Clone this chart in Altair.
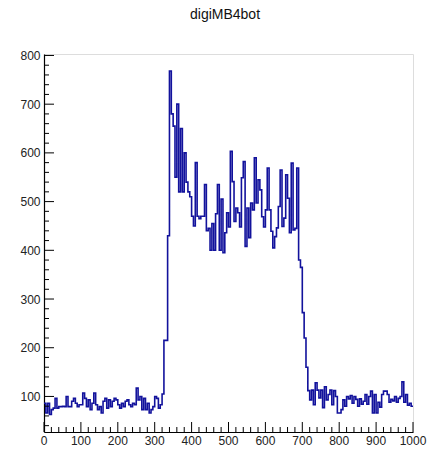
import altair as alt
import pandas as pd

bin_width = 5
x_max = 1000

baseline_counts = [86, 66, 86, 63, 73, 76, 96, 76, 79, 79, 80, 79, 100, 79, 79, 90,
                   96, 86, 79, 83, 83, 107, 96, 79, 93, 73, 86, 107, 83, 73, 79, 66,
                   90, 96, 76, 93, 79, 90, 96, 93, 83, 76, 86, 79, 90, 93, 83, 79,
                   86, 83, 117, 93, 100, 73, 96, 73, 86, 66, 73, 79, 100, 96, 76, 83]
rise_counts = [105, 215, 215, 430]
peak_counts = [768, 680, 655, 550, 700, 520, 650, 520, 600, 540, 520, 510, 470, 450,
               580, 470, 465, 470, 470, 535, 440, 445, 400, 455, 400, 475, 535, 400,
               505, 395, 436, 477, 448, 603, 541, 459, 487, 477, 448, 549, 582, 408,
               487, 426, 497, 483, 590, 497, 545, 524, 469, 448, 483, 569, 483, 439,
               405, 428, 446, 490, 565, 449, 466, 555, 507, 436, 579, 442, 445, 569]
fall_counts = [380, 365, 272, 220, 160, 112]
tail_counts = [93, 113, 83, 128, 113, 97, 113, 77, 120, 93, 104, 113, 83, 112, 100, 66,
               66, 73, 93, 80, 100, 95, 102, 86, 100, 94, 80, 95, 84, 90, 104, 84,
               100, 111, 66, 104, 66, 88, 78, 104, 111, 111, 104, 88, 94, 91, 100, 88,
               96, 100, 130, 88, 104, 82, 86, 80]

counts = baseline_counts + rise_counts + peak_counts + fall_counts + tail_counts
edges = [i * bin_width for i in range(len(counts))]
hist = pd.DataFrame({"x": edges + [x_max], "y": counts + [counts[-1]]})

x_major = list(range(0, 1001, 100))
x_minor = [v for v in range(0, 1001, 20) if v % 100]
y_major = list(range(100, 801, 100))
y_minor = [v for v in range(40, 801, 20) if v % 100]

W, H = 369, 378
FONT = "Liberation Sans"
xs = alt.Scale(domain=[0, 1000], nice=False, zero=False)
ys = alt.Scale(domain=[27, 803], nice=False, zero=False)

line = alt.Chart(hist).mark_line(
    interpolate="step-after", color="#12129c", strokeWidth=1.6
).encode(
    x=alt.X("x:Q", scale=xs, axis=alt.Axis(
        values=x_major, labels=False, tickSize=0, domain=True, domainColor="#000",
        domainWidth=1.2, grid=False, title=None)),
    y=alt.Y("y:Q", scale=ys, axis=alt.Axis(
        values=y_major, format="d", tickSize=0, domain=True, domainColor="#000",
        domainWidth=1.2, grid=False, labelOverlap=False,
        labelFont=FONT, labelFontSize=12, labelColor="#222", labelPadding=4,
        title=None)),
)

xlabels = alt.Chart(pd.DataFrame({"v": x_major})).mark_text(
    font=FONT, fontSize=12, color="#222", baseline="top", align="center"
).encode(x=alt.X("v:Q", scale=xs), y=alt.value(H + 4), text=alt.Text("v:Q", format="d"))

def xticks(vals, length):
    return alt.Chart(pd.DataFrame({"v": vals})).mark_rule(
        color="#000", strokeWidth=1).encode(
        x=alt.X("v:Q", scale=xs), y=alt.value(H), y2=alt.value(H - length))

def yticks(vals, length):
    return alt.Chart(pd.DataFrame({"v": vals})).mark_rule(
        color="#000", strokeWidth=1).encode(
        y=alt.Y("v:Q", scale=ys), x=alt.value(0), x2=alt.value(length))

title = alt.Chart(pd.DataFrame({"t": ["digiMB4bot"]})).mark_text(
    font=FONT, fontSize=14, color="#111", baseline="middle", align="center"
).encode(text="t:N", x=alt.value(181), y=alt.value(-39))

chart = alt.layer(
    line, xticks(x_major, 10), xticks(x_minor, 5),
    yticks(y_major, 10), yticks(y_minor, 5), xlabels, title
).properties(
    width=W, height=H,
    autosize=alt.AutoSizeParams(type="none"),
    padding={"left": 44, "top": 54, "right": 15, "bottom": 19},
).configure_view(stroke="#444", strokeWidth=1).configure(background="white")

chart.save("out.html", embed_options={"renderer": "svg", "actions": False})
